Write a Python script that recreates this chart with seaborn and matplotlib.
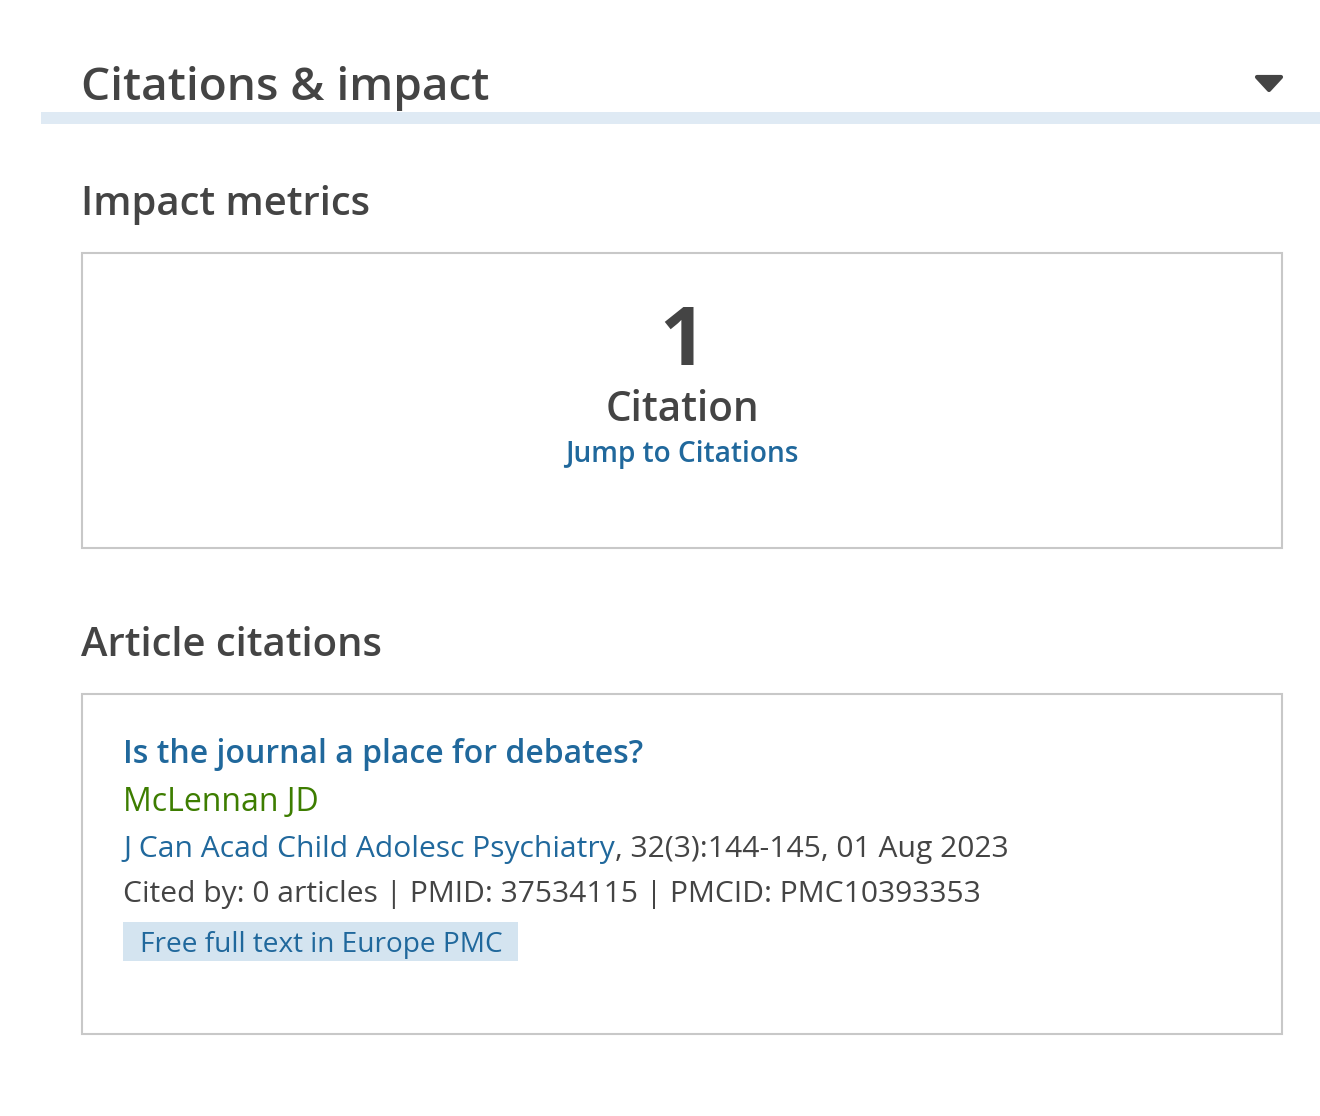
import matplotlib.pyplot as plt
import matplotlib.patches as mpatches
import seaborn as sns

# Contenido de la tarjeta
section_title = "Citations & impact"
metrics_heading = "Impact metrics"
citation_count = [1]
citation_label = ["Citation"]
jump_label = ["Jump to Citations"]
citations_heading = "Article citations"

article_titles = ["Is the journal a place for debates?"]
article_authors = ["McLennan JD"]
article_journals = ["J Can Acad Child Adolesc Psychiatry"]
article_refs = [", 32(3):144-145, 01 Aug 2023"]
article_info = ["Cited by: 0 articles | PMID: 37534115 | PMCID: PMC10393353"]
article_tags = ["Free full text in Europe PMC"]

# Colores
GRIS = "#444444"
AZUL = "#20689c"
VERDE = "#3d7d00"
BARRA = "#dfeaf4"
ETIQUETA = "#d4e4f0"
BORDE = "#c8c8c8"

sns.set_theme(style="white")
plt.rcParams['font.family'] = ['Open Sans', 'DejaVu Sans']

W, H = 1320, 1116
fig = plt.figure(figsize=(W / 100, H / 100), dpi=100)
ax = fig.add_axes([0, 0, 1, 1])
ax.set_xlim(0, W)
ax.set_ylim(H, 0)
ax.axis("off")


def px(n):
    # pixeles -> puntos
    return n * 0.72


# Cabecera
ax.text(81, 100, section_title, fontsize=px(46), fontweight="semibold", color=GRIS, va="baseline")
ax.add_patch(mpatches.Rectangle((41, 112), W - 41, 12, color=BARRA, lw=0))
ax.add_patch(mpatches.Polygon([(1257, 77), (1281, 77), (1269, 90)], closed=True,
                              facecolor=GRIS, edgecolor=GRIS, lw=3, joinstyle="round"))

# Impact metrics
ax.text(81, 215, metrics_heading, fontsize=px(40), fontweight="semibold", color=GRIS, va="baseline")
ax.add_patch(mpatches.Rectangle((82, 253), 1200, 295, fill=False, edgecolor=BORDE, lw=1.5))
cx = 682
ax.text(cx, 365, str(citation_count[0]), fontsize=px(81), fontweight="bold", color=GRIS,
        ha="center", va="baseline")
ax.text(cx, 421, citation_label[0], fontsize=px(40.5), fontweight="semibold", color=GRIS,
        ha="center", va="baseline")
ax.text(cx, 462, jump_label[0], fontsize=px(28), fontweight="semibold", color=AZUL,
        ha="center", va="baseline")

# Article citations
ax.text(81, 656, citations_heading, fontsize=px(40), fontweight="semibold", color=GRIS, va="baseline")
ax.add_patch(mpatches.Rectangle((82, 694), 1200, 340, fill=False, edgecolor=BORDE, lw=1.5))

fig.canvas.draw()
renderer = fig.canvas.get_renderer()

x0 = 123
for i in range(len(article_titles)):
    ax.text(x0, 763, article_titles[i], fontsize=px(32), fontweight="semibold", color=AZUL, va="baseline")
    ax.text(x0, 811, article_authors[i], fontsize=px(32), color=VERDE, va="baseline")
    t = ax.text(x0, 857, article_journals[i], fontsize=px(30), color=AZUL, va="baseline")
    bb = t.get_window_extent(renderer)
    ax.text(bb.x1, 857, article_refs[i], fontsize=px(30), color=GRIS, va="baseline")
    ax.text(x0, 902, article_info[i], fontsize=px(30), color=GRIS, va="baseline")
    ax.add_patch(mpatches.Rectangle((x0, 922), 395, 39, color=ETIQUETA, lw=0))
    ax.text(x0 + 17, 952, article_tags[i], fontsize=px(28), color=AZUL, va="baseline")

fig.savefig("out.png", dpi=100)
